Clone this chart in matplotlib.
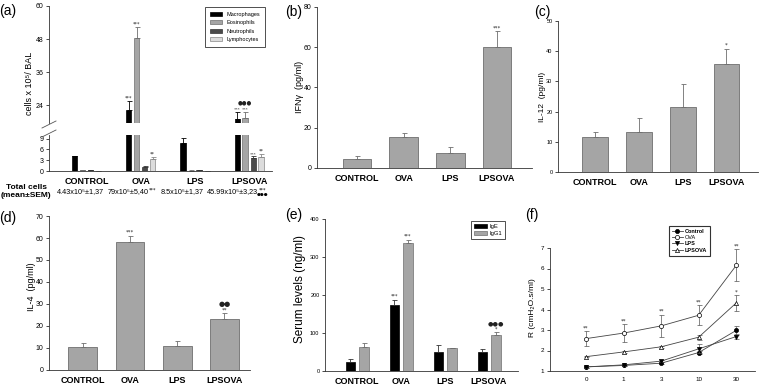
import matplotlib
matplotlib.use("Agg")
import matplotlib.pyplot as plt
from matplotlib.patches import Patch
from matplotlib.lines import Line2D
import numpy as np

plt.rcParams["font.family"] = ["Liberation Sans", "DejaVu Sans"]

W, H = 760, 385

# ---- data ----
groups = ["CONTROL", "OVA", "LPS", "LPSOVA"]

# (a) BAL cells
cell_types = ["Macrophages", "Eosinophils", "Neutrophils", "Lymphocytes"]
macrophages = [4.1, 22.2, 7.9, 19.0]
macrophages_err = [0.15, 3.3, 1.4, 2.5]
eosinophils = [0.2, 48.2, 0.1, 19.3]
eosinophils_err = [0.05, 4.2, 0.05, 2.2]
neutrophils = [0.3, 1.2, 0.3, 3.7]
neutrophils_err = [0.05, 0.1, 0.05, 0.4]
lymphocytes = [0.05, 3.3, 0.05, 3.9]
lymphocytes_err = [0.0, 0.5, 0.0, 0.8]
total_cells = ["4.43x10⁵±1,37", "79x10⁵±5,40", "8.5x10⁵±1,37", "45.99x10⁵±3,23"]

# (b) IFN-gamma, (c) IL-12, (d) IL-4
ifng = [4.4, 15.2, 7.3, 60.3]
ifng_err = [1.5, 2.3, 3.0, 7.7]
il12 = [11.6, 13.2, 21.5, 35.9]
il12_err = [1.6, 4.7, 7.8, 4.8]
il4 = [10.3, 58.0, 11.1, 23.2]
il4_err = [1.8, 3.0, 2.1, 2.6]

# (e) serum antibodies
ige = [24.5, 173, 50, 50]
ige_err = [6, 14, 18, 8]
igg1 = [64, 337, 60, 96]
igg1_err = [10, 9, 1.5, 7]

# (f) lung resistance vs methacholine dose
doses = ["0", "1", "3", "10", "30"]
res_control = [1.2, 1.27, 1.38, 1.9, 2.98]
res_control_err = [0.03, 0.03, 0.04, 0.06, 0.2]
res_ova = [2.58, 2.85, 3.2, 3.72, 6.15]
res_ova_err = [0.37, 0.45, 0.55, 0.5, 0.78]
res_lps = [1.2, 1.3, 1.48, 2.08, 2.68]
res_lps_err = [0.03, 0.04, 0.06, 0.22, 0.12]
res_lpsova = [1.7, 1.93, 2.18, 2.65, 4.32]
res_lpsova_err = [0.03, 0.04, 0.05, 0.12, 0.4]

GRAY = "#a5a5a5"
EDGE = "#6e6e6e"

fig = plt.figure(figsize=(W / 100, H / 100), dpi=100)


def px_axes(x0, y0, x1, y1):
    # box in pixels, origin at top-left
    return fig.add_axes([x0 / W, 1 - y1 / H, (x1 - x0) / W, (y1 - y0) / H])


def px_text(x, y, s, **kw):
    fig.text(x / W, 1 - y / H, s, **kw)


def style(ax, tick_size, labels=None, xpos=None):
    for side in ("top", "right"):
        ax.spines[side].set_visible(False)
    for side in ("left", "bottom"):
        ax.spines[side].set_linewidth(0.6)
        ax.spines[side].set_color("#333333")
    ax.tick_params(axis="y", labelsize=tick_size, length=2, width=0.5, pad=2)
    if labels is not None:
        ax.set_xticks(xpos, labels, fontsize=6.5, fontweight="bold")
        ax.tick_params(axis="x", length=0, pad=4)


def up_errors(ax, x, vals, errs, color=EDGE):
    ax.errorbar(x, vals, yerr=[np.zeros(len(vals)), errs], fmt="none",
                ecolor=color, elinewidth=0.6, capsize=1.8, capthick=0.6)


def mark(ax, x, y, s, size=4.5):
    ax.text(x, y, s, ha="center", va="bottom", fontsize=size, color="#222222",
            family=["DejaVu Sans"])


x = np.arange(4)

# ---------------- (a) ----------------
ax_up = px_axes(49, 6, 272, 123)
ax_lo = px_axes(49, 135, 272, 171)
series = [
    (macrophages, macrophages_err, "black", "black"),
    (eosinophils, eosinophils_err, GRAY, EDGE),
    (neutrophils, neutrophils_err, "#4a4a4a", "#333333"),
    (lymphocytes, lymphocytes_err, "#dcdcdc", "#888888"),
]
offsets = [-0.221, -0.074, 0.074, 0.221]
for ax in (ax_up, ax_lo):
    for (vals, errs, c, ec), off in zip(series, offsets):
        ax.bar(x + off, vals, width=0.1, color=c, edgecolor=ec, linewidth=0.5)
        up_errors(ax, x + off, vals, errs, color=ec if c != "black" else "black")
    ax.set_xlim(-0.69, 3.42)
ax_up.set_ylim(17.5, 60)
ax_lo.set_ylim(0, 10)
style(ax_up, 5)
style(ax_lo, 5, groups, x)
ax_up.spines["bottom"].set_visible(False)
ax_up.set_xticks([])
ax_up.set_yticks([24, 36, 48, 60])
ax_lo.set_yticks([0, 3, 6, 9])

mark(ax_up, 1 - 0.221, 25.8, "***", 3.5)
mark(ax_up, 1 - 0.074, 52.6, "***", 3.5)
mark(ax_up, 3 - 0.221, 21.7, "***", 3.2)
mark(ax_up, 3 - 0.074, 21.7, "***", 3.2)
mark(ax_up, 3 - 0.074, 23.8, "●●●", 4)
mark(ax_lo, 1 + 0.221, 3.9, "**", 3.5)
mark(ax_lo, 3 + 0.074, 4.2, "***", 3.2)
mark(ax_lo, 3 + 0.221, 4.8, "**", 3.5)

# axis break marks
for yb in (128, 137):
    fig.add_artist(Line2D([42 / W, 56 / W], [1 - yb / H, 1 - (yb - 7) / H],
                          transform=fig.transFigure, color="#555555", lw=0.6))

px_text(30, 83, "cells x 10⁵/ BAL", rotation=90, ha="center", va="center",
        fontsize=6.5)
px_text(8, 11, "(a)", ha="center", va="center", fontsize=10)

fig.legend([Patch(facecolor=c, edgecolor=ec, linewidth=0.5) for _, _, c, ec in series],
           cell_types, loc="upper right", bbox_to_anchor=(268 / W, 1 - 4 / H),
           fontsize=4.0, frameon=True, fancybox=False, edgecolor="#333333",
           framealpha=1, handlelength=2.2, handleheight=0.8, borderpad=0.9,
           labelspacing=0.6).get_frame().set_linewidth(0.6)

px_text(26, 187, "Total cells", ha="center", va="center", fontsize=6,
        fontweight="bold")
px_text(26, 196, "(mean±SEM)", ha="center", va="center", fontsize=6,
        fontweight="bold")
for xc, s in zip([80, 128, 182], total_cells[:3]):
    px_text(xc, 192, s, ha="center", va="center", fontsize=5.2)
px_text(258, 192, total_cells[3], ha="right", va="center", fontsize=5.2)
px_text(153, 190, "***", ha="center", va="center", fontsize=3.5,
        family=["DejaVu Sans"])
px_text(263, 190, "***", ha="center", va="center", fontsize=3.5,
        family=["DejaVu Sans"])
px_text(263, 195, "●●●", ha="center", va="center", fontsize=3.2,
        family=["DejaVu Sans"])

# ---------------- (b) ----------------
ax_b = px_axes(317, 7, 532, 168)
ax_b.bar(x, ifng, width=0.62, color=GRAY, edgecolor=EDGE, linewidth=0.6)
up_errors(ax_b, x, ifng, ifng_err)
ax_b.set_xlim(-0.857, 3.75)
ax_b.set_ylim(0, 80)
ax_b.set_yticks([0, 20, 40, 60, 80])
style(ax_b, 5, groups, x)
mark(ax_b, 3, 68.5, "***", 4)
px_text(299, 87, "IFNγ  (pg/ml)", rotation=90, ha="center", va="center",
        fontsize=6.5)
px_text(294, 12, "(b)", ha="center", va="center", fontsize=10)

# ---------------- (c) ----------------
ax_c = px_axes(558, 21, 758, 172)
ax_c.bar(x, il12, width=0.59, color=GRAY, edgecolor=EDGE, linewidth=0.6)
up_errors(ax_c, x, il12, il12_err)
ax_c.set_xlim(-0.845, 3.72)
ax_c.set_ylim(0, 50)
ax_c.set_yticks([0, 10, 20, 30, 40, 50])
style(ax_c, 4, groups, x)
mark(ax_c, 3, 41.2, "*", 4)
px_text(543, 97, "IL-12  (pg/ml)", rotation=90, ha="center", va="center",
        fontsize=6)
px_text(542, 12, "(c)", ha="center", va="center", fontsize=10)

# ---------------- (d) ----------------
ax_d = px_axes(49, 216, 250, 370)
ax_d.bar(x, il4, width=0.61, color=GRAY, edgecolor=EDGE, linewidth=0.6)
up_errors(ax_d, x, il4, il4_err)
ax_d.set_xlim(-0.714, 3.54)
ax_d.set_ylim(0, 70)
ax_d.set_yticks(range(0, 71, 10))
style(ax_d, 5, groups, x)
mark(ax_d, 1, 61.6, "***", 4)
mark(ax_d, 3, 26.2, "**", 4)
mark(ax_d, 3, 28.8, "●●", 5)
px_text(32, 287, "IL-4  (pg/ml)", rotation=90, ha="center", va="center",
        fontsize=6.5)
px_text(8, 218, "(d)", ha="center", va="center", fontsize=10)

# ---------------- (e) ----------------
ax_e = px_axes(325, 219, 518, 371)
b1 = ax_e.bar(x - 0.155, ige, width=0.21, color="black", edgecolor="black",
              linewidth=0.5, label="IgE")
b2 = ax_e.bar(x + 0.16, igg1, width=0.22, color=GRAY, edgecolor=EDGE,
              linewidth=0.5, label="IgG1")
up_errors(ax_e, x - 0.155, ige, ige_err, color="#333333")
up_errors(ax_e, x + 0.16, igg1, igg1_err)
ax_e.set_xlim(-0.727, 3.66)
ax_e.set_ylim(0, 400)
ax_e.set_yticks([0, 100, 200, 300, 400])
style(ax_e, 4, groups, x)
mark(ax_e, 1 - 0.155, 190, "***", 3.5)
mark(ax_e, 1 + 0.16, 349, "***", 3.5)
mark(ax_e, 3 + 0.16, 104, "*", 3.5)
mark(ax_e, 3 + 0.16, 117, "●●●", 4.5)
leg_e = fig.legend([b1, b2], ["IgE", "IgG1"], loc="upper left",
                   bbox_to_anchor=(468 / W, 1 - 218 / H), fontsize=4.2,
                   fancybox=False, edgecolor="#333333", framealpha=1,
                   handlelength=2.2, handleheight=0.8, borderpad=0.5,
                   labelspacing=0.3, handletextpad=0.4)
leg_e.get_frame().set_linewidth(0.6)
px_text(300, 289, "Serum levels (ng/ml)", rotation=90, ha="center",
        va="center", fontsize=8.5)
px_text(294, 215, "(e)", ha="center", va="center", fontsize=10)

# ---------------- (f) ----------------
ax_f = px_axes(550, 248, 755, 371)
xf = np.arange(len(doses))
lines_f = []
for vals, errs, m, mfc, lab in [
    (res_control, res_control_err, "o", "black", "Control"),
    (res_ova, res_ova_err, "o", "white", "OVA"),
    (res_lps, res_lps_err, "v", "black", "LPS"),
    (res_lpsova, res_lpsova_err, "^", "white", "LPSOVA"),
]:
    ax_f.errorbar(xf, vals, yerr=errs, fmt="none", ecolor="#555555",
                  elinewidth=0.5, capsize=1.8, capthick=0.5)
    ln, = ax_f.plot(xf, vals, marker=m, ms=3, mfc=mfc, mec="black", mew=0.5,
                    color="#444444", lw=0.6, label=lab)
    lines_f.append(ln)
ax_f.set_xlim(-0.96, 4.5)
ax_f.set_ylim(1, 7)
ax_f.set_yticks(range(1, 8))
ax_f.set_xticks(xf, doses)
style(ax_f, 4.5)
ax_f.tick_params(axis="x", labelsize=4.5, length=0, pad=4)
for xi, v, e in zip(xf, res_ova, res_ova_err):
    mark(ax_f, xi, v + e + 0.03, "**", 4)
mark(ax_f, 4, res_lpsova[4] + res_lpsova_err[4] + 0.03, "*", 4)
leg_f = fig.legend(lines_f, ["Control", "OVA", "LPS", "LPSOVA"],
                   loc="upper left", bbox_to_anchor=(666 / W, 1 - 223 / H),
                   fontsize=4, fancybox=False, edgecolor="#333333",
                   framealpha=1, handlelength=2.0, borderpad=0.5,
                   labelspacing=0.25, handletextpad=0.4)
leg_f.get_frame().set_linewidth(0.8)
for t in leg_f.get_texts():
    t.set_fontweight("bold")
leg_f.get_texts()[1].set_fontweight("normal")
px_text(532, 308, "R (cmH₂O.s/ml)", rotation=90, ha="center", va="center",
        fontsize=6)
px_text(532, 215, "(f)", ha="center", va="center", fontsize=10)

fig.savefig("out.png", dpi=100)
